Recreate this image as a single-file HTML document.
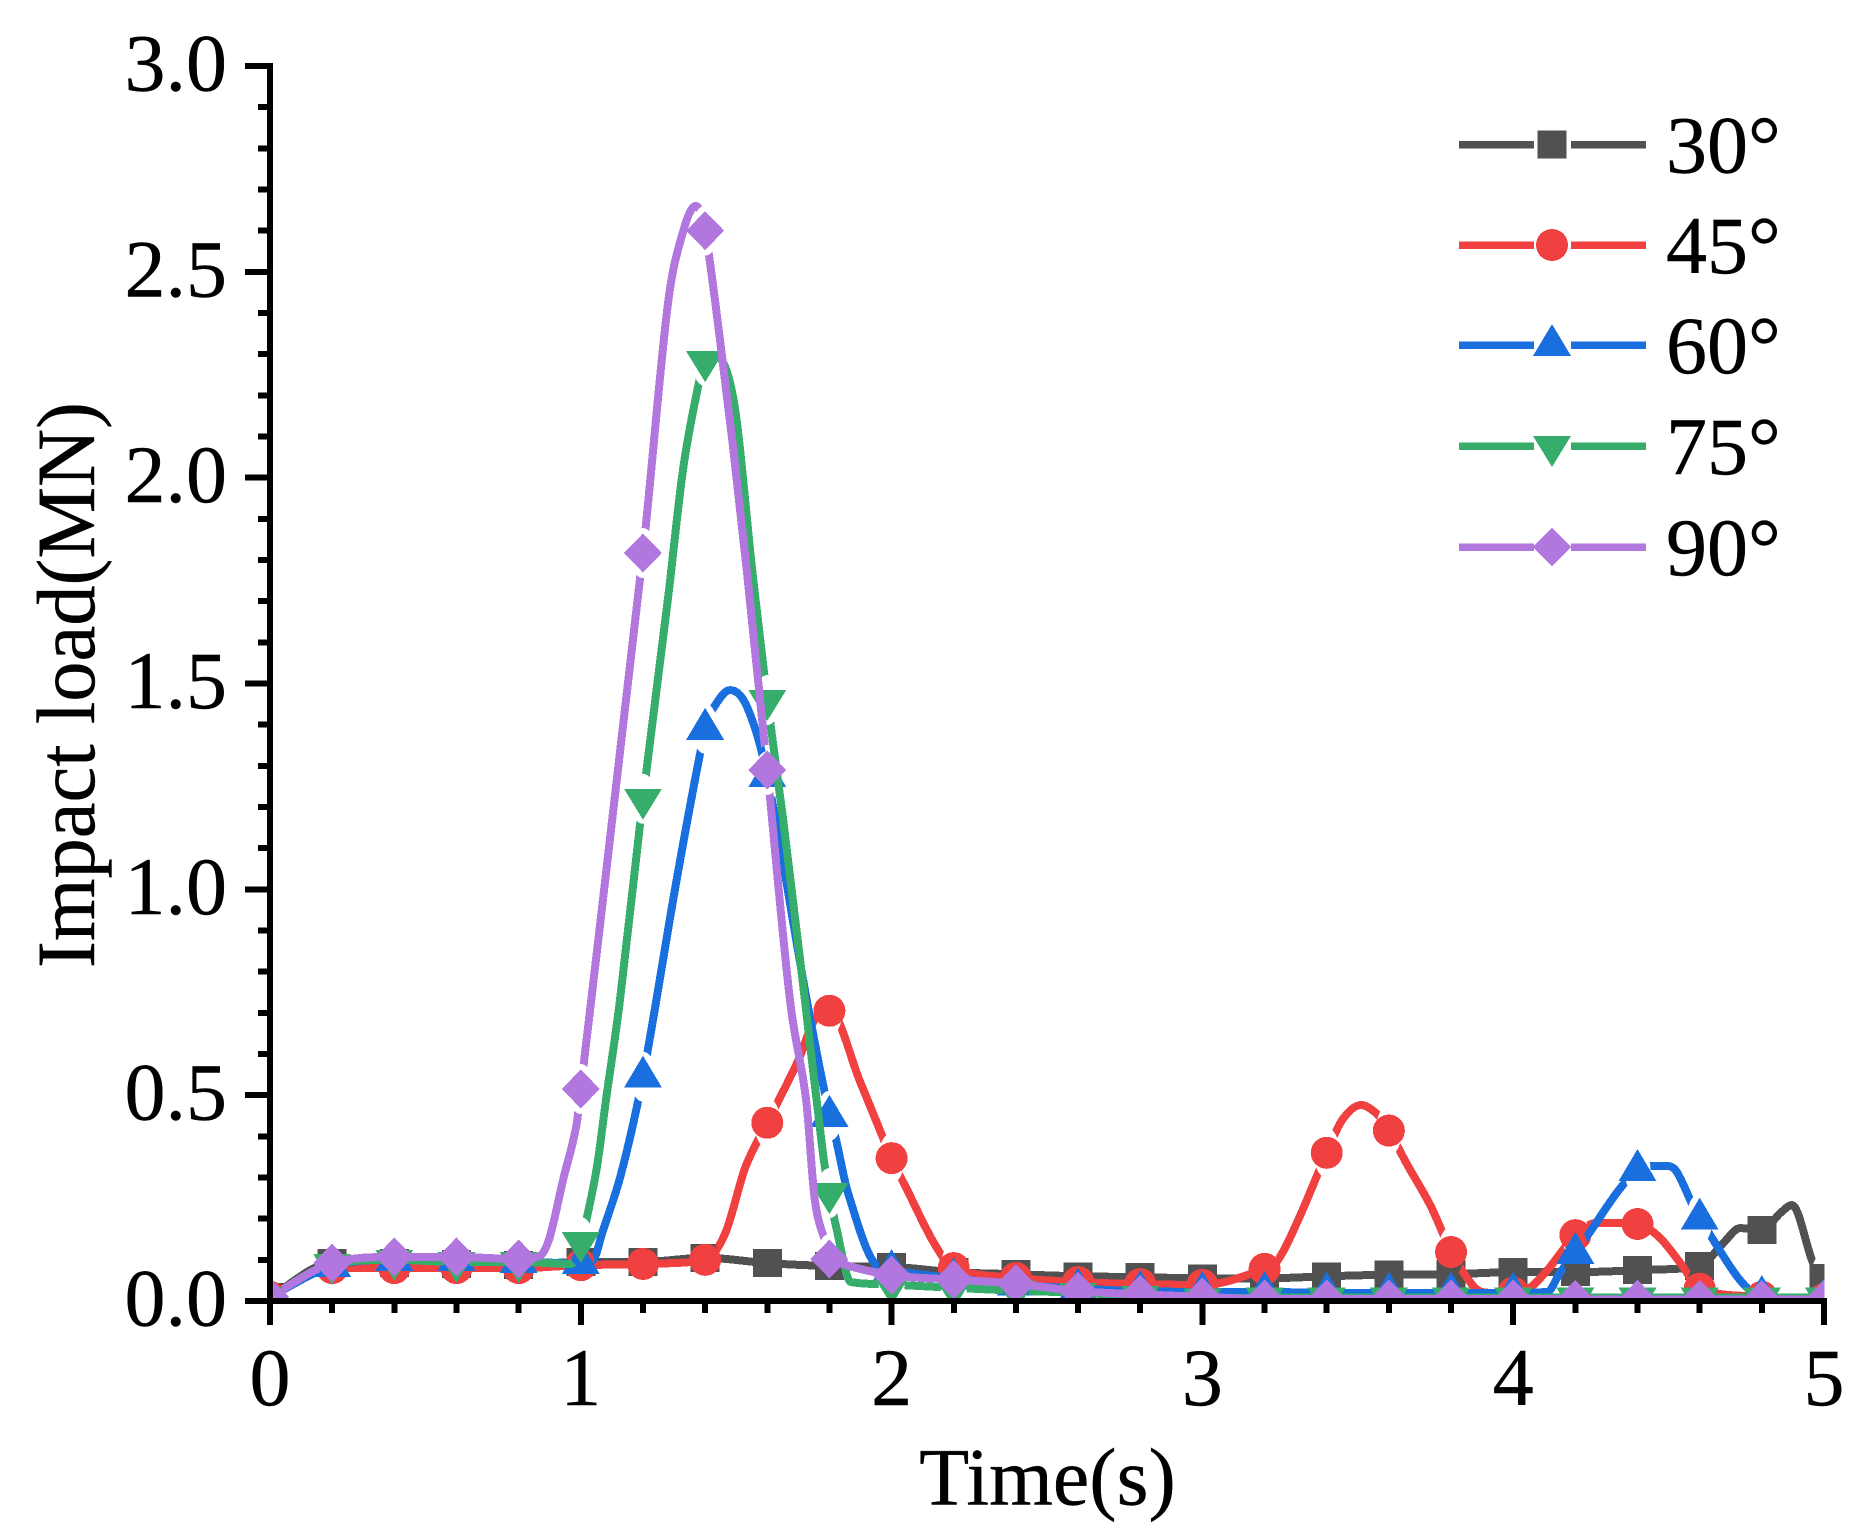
<!DOCTYPE html>
<html lang="en">
<head>
<meta charset="utf-8">
<title>Impact load vs time</title>
<style>
html,body{margin:0;padding:0;background:#fff;}
svg{display:block;}
text{font-family:"Liberation Serif","Times New Roman",serif;fill:#000;stroke:#000;stroke-width:0.4px;}
</style>
</head>
<body>
<svg id="chart" xmlns="http://www.w3.org/2000/svg" width="1872" height="1539" viewBox="0 0 1872 1539">
  <rect x="0" y="0" width="1872" height="1539" fill="#fff"/>
  <defs>
    <clipPath id="plot-clip"><rect x="270" y="0" width="1554.5" height="1302"/></clipPath>
  </defs>
  <g id="plot" shape-rendering="crispEdges"></g>
  <g id="axes" shape-rendering="crispEdges"></g>
  <text x="1047.5" y="1504.5" font-size="82" text-anchor="middle">Time(s)</text>
  <text transform="translate(94,968) rotate(-90)" font-size="83" textLength="566" lengthAdjust="spacingAndGlyphs">Impact load(MN)</text>
  <g id="legend" shape-rendering="crispEdges"></g>
</svg>
<script>
// ---- Data ----
const markerTimes = [0,0.2,0.4,0.6,0.8,1.0,1.2,1.4,1.6,1.8,2.0,2.2,2.4,2.6,2.8,3.0,3.2,3.4,3.6,3.8,4.0,4.2,4.4,4.6,4.8,5.0];

const load30 = [0.01,0.092,0.092,0.09,0.088,0.095,0.095,0.105,0.092,0.085,0.083,0.07,0.065,0.06,0.058,0.055,0.055,0.06,0.064,0.065,0.07,0.07,0.075,0.085,0.172,0.056];
const load45 = [0.01,0.08,0.08,0.08,0.08,0.087,0.09,0.1,0.433,0.705,0.347,0.08,0.056,0.046,0.041,0.039,0.078,0.36,0.414,0.119,0.02,0.16,0.187,0.03,0.01,0.005];
const load60 = [0.01,0.085,0.1,0.1,0.095,0.092,0.545,1.39,1.275,0.45,0.075,0.055,0.04,0.03,0.024,0.022,0.022,0.02,0.02,0.02,0.02,0.117,0.318,0.2,0.012,0.005];
const load75 = [0.01,0.09,0.1,0.095,0.095,0.143,1.22,2.283,1.46,0.262,0.04,0.032,0.025,0.02,0.012,0.006,0.008,0.008,0.008,0.008,0.008,0.008,0.008,0.008,0.008,0.008];
const load90 = [0.01,0.092,0.107,0.107,0.102,0.515,1.817,2.6,1.29,0.102,0.063,0.052,0.042,0.024,0.016,0.01,0.005,0.005,0.005,0.005,0.005,0.004,0.004,0.004,0.004,0.004];

// Extra curve readings between the markers: time and load
const curveT30 = [4.675,4.73,4.86,4.897,4.965];
const curveV30 = [0.14,0.177,0.214,0.233,0.092];
const curveT45 = [1.465,1.53,1.7,1.75,1.9,2.05,2.137,3.247,3.313,3.45,3.51,3.565,3.66,3.735,3.83,3.88,3.92,4.05,4.11,4.27,4.47,4.54];
const curveV45 = [0.165,0.326,0.585,0.68,0.53,0.27,0.14,0.104,0.205,0.44,0.476,0.452,0.33,0.23,0.08,0.03,0.02,0.03,0.075,0.19,0.155,0.09];
const curveT60 = [1.04,1.07,1.13,1.31,1.422,1.48,1.535,1.727,1.82,1.86,1.945,4.11,4.15,4.45,4.49,4.526];
const curveV60 = [0.1,0.168,0.31,1.03,1.435,1.484,1.443,0.731,0.396,0.262,0.092,0.022,0.068,0.328,0.328,0.314];
const curveT75 = [0.97,1.02,1.052,1.081,1.126,1.28,1.329,1.377,1.42,1.49,1.554,1.65,1.721,1.779,1.821,1.869];
const curveV75 = [0.09,0.204,0.326,0.488,0.731,1.703,2.02,2.22,2.3,2.196,1.758,1.176,0.731,0.359,0.182,0.046];
const curveT90 = [0.869,0.9,0.943,0.985,1.28,1.33,1.37,1.448,1.49,1.535,1.673,1.725,1.753,1.792];
const curveV90 = [0.11,0.155,0.294,0.423,2.42,2.6,2.66,2.334,2.074,1.768,0.731,0.488,0.245,0.13];

const seriesNames = ['30°','45°','60°','75°','90°'];
const xTickLabels = ['0','1','2','3','4','5'];
const yTickLabels = ['0.0','0.5','1.0','1.5','2.0','2.5','3.0'];

// ---- Scales ----
const NS = 'http://www.w3.org/2000/svg';
const xMin = 0, xMax = 5, yMin = 0, yMax = 3;
const xLeft = 270, xRight = 1824, yBottom = 1301, yTop = 66;
function xScale(t){ return xLeft + (t - xMin) / (xMax - xMin) * (xRight - xLeft); }
function yScale(v){ return yBottom - (v - yMin) / (yMax - yMin) * (yBottom - yTop); }

function make(tag, attrs, parent){
  const el = document.createElementNS(NS, tag);
  for (const k in attrs) el.setAttribute(k, attrs[k]);
  parent.appendChild(el);
  return el;
}

// Smooth cubic path: central-difference tangents, limited so flat runs do not overshoot
function smoothPath(pts){
  const n = pts.length, dx = [], s = [], m = [];
  for (let i = 0; i < n - 1; i++){
    dx[i] = pts[i+1][0] - pts[i][0];
    s[i] = (pts[i+1][1] - pts[i][1]) / dx[i];
  }
  m[0] = s[0]; m[n-1] = s[n-2];
  for (let i = 1; i < n - 1; i++){
    const c = (pts[i+1][1] - pts[i-1][1]) / (pts[i+1][0] - pts[i-1][0]);
    if (s[i-1] * s[i] <= 0) {
      // local extreme: keep tangent level
      m[i] = 0;
    } else {
      const lim = 3 * Math.min(Math.abs(s[i-1]), Math.abs(s[i]));
      m[i] = Math.sign(c) * Math.min(Math.abs(c), lim);
    }
  }
  let d = 'M' + pts[0][0].toFixed(2) + ' ' + pts[0][1].toFixed(2);
  for (let i = 0; i < n - 1; i++){
    const h = dx[i] / 3;
    d += ' C' + (pts[i][0] + h).toFixed(2) + ' ' + (pts[i][1] + m[i] * h).toFixed(2) +
         ' ' + (pts[i+1][0] - h).toFixed(2) + ' ' + (pts[i+1][1] - m[i+1] * h).toFixed(2) +
         ' ' + pts[i+1][0].toFixed(2) + ' ' + pts[i+1][1].toFixed(2);
  }
  return d;
}

function mergedPoints(vals, ct, cv){
  const all = [];
  markerTimes.forEach(function(t, i){ all.push([t, vals[i]]); });
  ct.forEach(function(t, i){ all.push([t, cv[i]]); });
  all.sort(function(a, b){ return a[0] - b[0]; });
  return all.map(function(p){ return [xScale(p[0]), yScale(p[1])]; });
}

function drawMarker(kind, cx, cy, color, parent){
  let el;
  if (kind === 'square'){
    el = make('rect', {x: cx - 14.5, y: cy - 14, width: 29, height: 28, fill: color}, parent);
  } else if (kind === 'circle'){
    el = make('circle', {cx: cx, cy: cy, r: 16, fill: color}, parent);
  } else if (kind === 'up'){
    el = make('polygon', {points: (cx)+','+(cy-21)+' '+(cx+19)+','+(cy+11)+' '+(cx-19)+','+(cy+11), fill: color}, parent);
  } else if (kind === 'down'){
    el = make('polygon', {points: (cx-19)+','+(cy-10)+' '+(cx+19)+','+(cy-10)+' '+(cx)+','+(cy+21), fill: color}, parent);
  } else {
    el = make('polygon', {points: (cx)+','+(cy-19.5)+' '+(cx+19)+','+(cy)+' '+(cx)+','+(cy+19.5)+' '+(cx-19)+','+(cy), fill: color}, parent);
  }
  return el;
}

// ---- Series ----
const colors = ['#515151','#f14040','#1a6fdf','#37ad6b','#b177de'];
const kinds = ['square','circle','up','down','diamond'];
const seriesValues = [load30, load45, load60, load75, load90];
const seriesCurveT = [curveT30, curveT45, curveT60, curveT75, curveT90];
const seriesCurveV = [curveV30, curveV45, curveV60, curveV75, curveV90];
const seriesKeys = ['30','45','60','75','90'];

const svg = document.getElementById('chart');
const defs = svg.querySelector('defs');
const plot = document.getElementById('plot');
plot.setAttribute('clip-path', 'url(#plot-clip)');

seriesValues.forEach(function(vals, idx){
  const mask = make('mask', {id: 'gap-' + idx, maskUnits: 'userSpaceOnUse', x: 0, y: 0, width: 1872, height: 1539}, defs);
  make('rect', {x: 0, y: 0, width: 1872, height: 1539, fill: '#fff'}, mask);
  markerTimes.forEach(function(t, i){
    make('ellipse', {cx: xScale(t), cy: yScale(vals[i]), rx: 13, ry: 25, fill: '#000'}, mask);
  });

  const g = document.createElementNS(NS, 'g');
  
  
  plot.appendChild(g);

  const line = make('path', {
    d: smoothPath(mergedPoints(vals, seriesCurveT[idx], seriesCurveV[idx])),
    fill: 'none', stroke: colors[idx], 'stroke-width': 8,
    'stroke-linejoin': 'round', 'stroke-linecap': 'round', mask: 'url(#gap-' + idx + ')'
  }, g);
  
  

  markerTimes.forEach(function(t, i){
    const m = drawMarker(kinds[idx], xScale(t), yScale(vals[i]), colors[idx], g);
    
    
  });
});

// ---- Axes ----
const axes = document.getElementById('axes');
const yAxisLine = make('line', {x1: xLeft, y1: yTop - 3, x2: xLeft, y2: yBottom + 3, stroke: '#000', 'stroke-width': 6}, axes);


const xAxisLine = make('line', {x1: xLeft - 3, y1: yBottom, x2: xRight + 3, y2: yBottom, stroke: '#000', 'stroke-width': 6}, axes);



// minor ticks every 0.2 s and every 0.1 MN
for (let i = 0; i <= 25; i++){
  const x = xScale(i * 0.2);
  const major = i % 5 === 0;
  const tick = make('line', {x1: x, y1: yBottom, x2: x, y2: yBottom + (major ? 24 : 12), stroke: '#000', 'stroke-width': 6}, axes);
  
  
}
for (let i = 0; i <= 30; i++){
  const y = yScale(i * 0.1);
  const major = i % 5 === 0;
  const tick = make('line', {x1: xLeft, y1: y, x2: xLeft - (major ? 25 : 12), y2: y, stroke: '#000', 'stroke-width': 6}, axes);
  
  
}
xTickLabels.forEach(function(lab, i){
  const t = make('text', {x: xScale(Number(lab)), y: 1405, 'font-size': 82, 'text-anchor': 'middle'}, axes);
  t.textContent = lab;
  
  
});
yTickLabels.forEach(function(lab){
  const t = make('text', {x: 227, y: yScale(Number(lab)) + 24.5, 'font-size': 82, 'text-anchor': 'end'}, axes);
  t.textContent = lab;
  
  
});

// ---- Legend ----
const legend = document.getElementById('legend');
const legendRows = [144.3, 245, 345, 446, 547];
seriesNames.forEach(function(name, i){
  const y = legendRows[i];
  const g = document.createElementNS(NS, 'g');
  
  
  legend.appendChild(g);
  make('rect', {x: 1459, y: y - 3.5, width: 75, height: 7.5, fill: colors[i]}, g);
  make('rect', {x: 1571, y: y - 3.5, width: 75, height: 7.5, fill: colors[i]}, g);
  drawMarker(kinds[i], 1552, y, colors[i], g);
  const t = make('text', {x: 1666, y: y + 28, 'font-size': 82}, g);
  t.textContent = name;
});
</script>
</body>
</html>
